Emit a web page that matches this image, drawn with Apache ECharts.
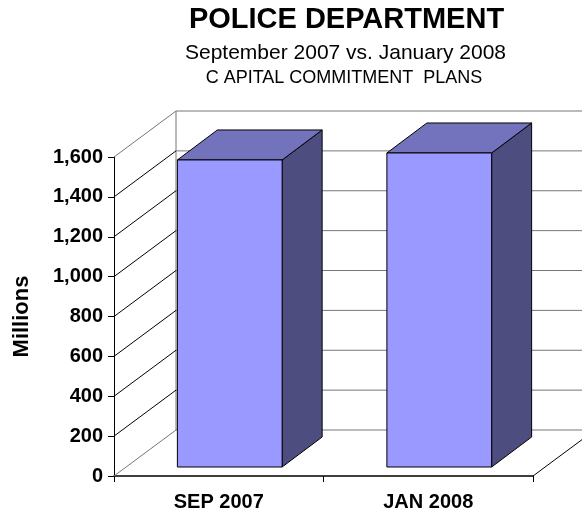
<!DOCTYPE html>
<html><head><meta charset="utf-8">
<style>html,body{margin:0;padding:0;background:#fff}#c{width:582px;height:513px}</style>
<script src="https://cdn.jsdelivr.net/npm/echarts@6/dist/echarts.min.js"></script>
</head><body><div id="c"></div>
<script>
var categories = ['SEP 2007', 'JAN 2008'];
var commitments = [1540, 1575];
var yTicks = [0, 200, 400, 600, 800, 1000, 1200, 1400, 1600];

var FONT = '"Liberation Sans", Arial, sans-serif';
var WALL = {dx: 62, dy: -46};
var BAR = {dx: 11, dy: -9, sideDx: 40, sideDy: -30, widthRatio: 0.5};

var chart = echarts.init(document.getElementById('c'), null, {renderer: 'canvas'});

function line(x1, y1, x2, y2, color) {
  return {type: 'line', shape: {x1: x1, y1: y1, x2: x2, y2: y2},
    style: {stroke: color, lineWidth: 1}, silent: true};
}
function renderWall(params, api) {
  var v = api.value(0);
  var p = api.coord([0, v]);
  var cs = params.coordSys;
  var left = cs.x, right = cs.x + cs.width, y = p[1];
  var edge = v === yTicks[0] || v === yTicks[yTicks.length - 1];
  var kids = [
    line(left, y, left + WALL.dx, y + WALL.dy, edge ? '#777777' : '#000000'),
    line(left + WALL.dx, y + WALL.dy, right + WALL.dx, y + WALL.dy, '#777777')
  ];
  if (v === yTicks[0]) {
    kids.push(line(left + WALL.dx, y + WALL.dy, left + WALL.dx, cs.y + WALL.dy, '#777777'));
    kids.push(line(right, y, right + WALL.dx, y + WALL.dy, '#000000'));
  }
  return {type: 'group', children: kids};
}
function poly(points, fill) {
  return {type: 'polygon', shape: {points: points},
    style: {fill: fill, stroke: '#000000', lineWidth: 1, lineJoin: 'round'}};
}
function renderBar(params, api) {
  var base = api.coord([api.value(0), 0]);
  var top = api.coord([api.value(0), api.value(1)]);
  var w = api.size([1, 0])[0] * BAR.widthRatio;
  var l = base[0] - w / 2 + BAR.dx, r = l + w;
  var b = base[1] + BAR.dy, t = top[1] + BAR.dy;
  var sx = BAR.sideDx, sy = BAR.sideDy;
  return {type: 'group', children: [
    poly([[r, t], [r + sx, t + sy], [r + sx, b + sy], [r, b]], '#4D4D80'),
    poly([[l, t], [l + sx, t + sy], [r + sx, t + sy], [r, t]], '#7373BD'),
    poly([[l, t], [r, t], [r, b], [l, b]], '#9999FF')
  ]};
}

chart.setOption({
  animation: false,
  backgroundColor: '#ffffff',
  title: [
    {text: 'POLICE DEPARTMENT', left: 346.5, top: 5, textAlign: 'center', padding: 0,
      textStyle: {fontFamily: FONT, fontSize: 29, fontWeight: 'bold', color: '#000'}},
    {text: 'September 2007 vs. January 2008', left: 345.5, top: 43, textAlign: 'center', padding: 0,
      textStyle: {fontFamily: FONT, fontSize: 21, fontWeight: 'normal', color: '#000'}},
    {text: 'C APITAL COMMITMENT  PLANS', left: 344, top: 69, textAlign: 'center', padding: 0,
      textStyle: {fontFamily: FONT, fontSize: 18, fontWeight: 'normal', color: '#000'}}
  ],
  grid: {left: 114, top: 157, width: 419, height: 319, containLabel: false, outerBoundsMode: 'none'},
  xAxis: {
    type: 'category', data: categories,
    axisLine: {lineStyle: {color: '#000', width: 1.5}},
    axisTick: {show: true, length: 6, alignWithLabel: false, lineStyle: {color: '#000'}},
    axisLabel: {fontFamily: FONT, fontSize: 20, fontWeight: 'bold', color: '#000', margin: 16},
    splitLine: {show: false}
  },
  yAxis: {
    type: 'value', min: 0, max: 1600, interval: 200,
    name: 'Millions', nameLocation: 'middle', nameGap: 81, nameRotate: 90,
    nameTextStyle: {fontFamily: FONT, fontSize: 22, fontWeight: 'bold', color: '#000'},
    axisLine: {show: true, lineStyle: {color: '#000', width: 1}},
    axisTick: {show: true, length: 6, lineStyle: {color: '#000'}},
    axisLabel: {fontFamily: FONT, fontSize: 20, fontWeight: 'bold', color: '#000', margin: 11,
      formatter: function (v) { return v.toLocaleString('en-US'); }},
    splitLine: {show: false}
  },
  series: [
    {type: 'custom', name: 'walls', clip: false, silent: true, z: 1,
      coordinateSystem: 'cartesian2d', renderItem: renderWall,
      encode: {y: 0}, data: yTicks.map(function (v) { return [v]; })},
    {type: 'custom', name: 'Capital commitments', clip: false, silent: true, z: 2,
      coordinateSystem: 'cartesian2d', renderItem: renderBar,
      encode: {x: 0, y: 1},
      data: categories.map(function (c, i) { return [i, commitments[i]]; })}
  ]
});
</script></body></html>
